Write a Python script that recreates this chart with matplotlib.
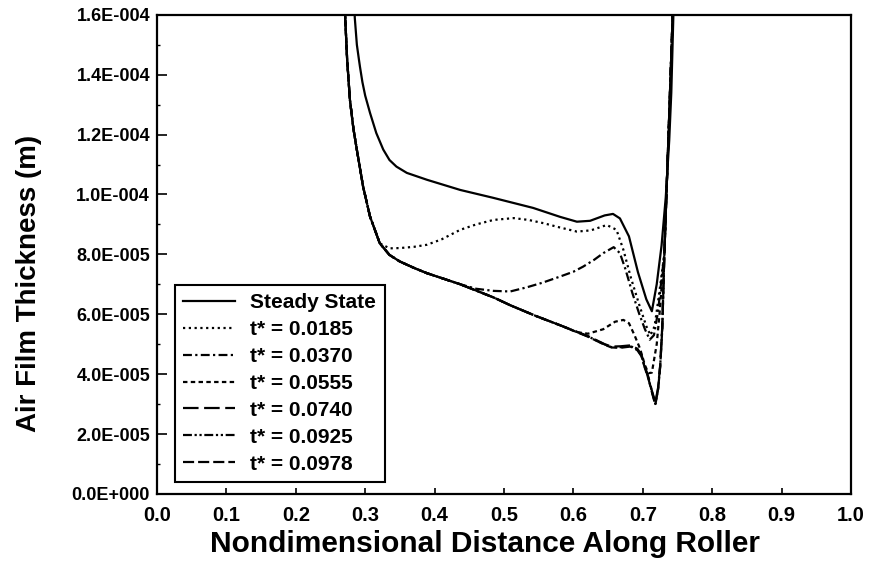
import numpy as np
import matplotlib
matplotlib.use("Agg")
import matplotlib.pyplot as plt
from matplotlib.ticker import FuncFormatter, MultipleLocator

plt.rcParams['font.family'] = ['Liberation Sans', 'DejaVu Sans']
plt.rcParams['font.weight'] = 'bold'

# film thickness values are read in units of 1E-005 m
# left branch shared by all transient curves (they sit on top of each other there)
left_x = [0.2695, 0.271, 0.274, 0.278, 0.283, 0.288, 0.297, 0.307, 0.321]
left_y = [17.0, 16.0, 14.5, 13.16, 12.2, 11.49, 10.26, 9.26, 8.37]
# right branch, also shared by the transient curves
right_x = [0.729, 0.731, 0.734, 0.737, 0.740, 0.743, 0.745]
right_y = [7.0, 8.0, 10.0, 12.0, 14.0, 16.0, 17.0]

steady_x = [0.2835, 0.285, 0.288, 0.291, 0.2925, 0.296, 0.300, 0.307, 0.316, 0.326, 0.335,
            0.345, 0.360, 0.389, 0.437, 0.484, 0.542, 0.581, 0.605, 0.624, 0.645, 0.657,
            0.667, 0.680, 0.693, 0.705, 0.713, 0.720, 0.727, 0.733, 0.738, 0.741, 0.744, 0.746]
steady_y = [17.0, 15.9, 15.0, 14.5, 14.26, 13.75, 13.3, 12.72, 12.05, 11.5, 11.15,
            10.93, 10.72, 10.49, 10.15, 9.89, 9.55, 9.25, 9.09, 9.12, 9.3, 9.35,
            9.2, 8.6, 7.4, 6.5, 6.1, 7.0, 8.3, 9.9, 11.8, 13.4, 16.0, 17.0]

mid_x = [0.335, 0.350, 0.370, 0.389, 0.437]
lower_mid_y = [7.98, 7.76, 7.55, 7.37, 7.0]

t0185_x = left_x + [0.335, 0.350, 0.370, 0.389, 0.410, 0.437, 0.460, 0.485, 0.514, 0.535,
                    0.557, 0.580, 0.605, 0.625, 0.648, 0.662, 0.672, 0.683, 0.695, 0.705,
                    0.711, 0.717, 0.723] + right_x[1:]
t0185_y = left_y + [8.2, 8.21, 8.25, 8.32, 8.5, 8.82, 9.0, 9.15, 9.21, 9.15,
                    9.04, 8.9, 8.76, 8.8, 8.98, 8.82, 8.15, 7.2, 6.3, 5.6,
                    5.3, 5.6, 6.6] + right_y[1:]

t0370_x = left_x + mid_x + [0.460, 0.485, 0.509, 0.533, 0.555, 0.581, 0.600, 0.614, 0.630,
                            0.643, 0.658, 0.667, 0.675, 0.685, 0.695, 0.703, 0.710, 0.716,
                            0.722, 0.727] + right_x[1:]
t0370_y = left_y + lower_mid_y + [6.85, 6.78, 6.76, 6.9, 7.05, 7.26, 7.42, 7.59, 7.82,
                                  8.04, 8.24, 8.04, 7.5, 6.7, 6.0, 5.5, 5.15, 5.3,
                                  6.1, 7.2] + right_y[1:]

t0555_x = left_x + mid_x + [0.486, 0.509, 0.545, 0.581, 0.605, 0.621, 0.643, 0.660, 0.672,
                            0.680, 0.688, 0.696, 0.703, 0.708, 0.713, 0.720, 0.724, 0.727] + right_x[1:]
t0555_y = left_y + lower_mid_y + [6.55, 6.3, 5.95, 5.63, 5.4, 5.35, 5.5, 5.75, 5.81,
                                  5.7, 5.3, 4.85, 4.3, 4.03, 4.05, 5.0, 6.0, 6.9] + right_y[1:]

t0740_x = left_x + mid_x + [0.486, 0.509, 0.545, 0.581, 0.621, 0.645, 0.655, 0.668, 0.682,
                            0.692, 0.698, 0.703, 0.708, 0.713, 0.718, 0.722, 0.725, 0.728] + right_x[1:]
t0740_y = left_y + lower_mid_y + [6.55, 6.3, 5.95, 5.63, 5.27, 5.0, 4.92, 4.93, 4.96,
                                  4.85, 4.65, 4.25, 3.9, 3.45, 3.05, 3.55, 4.3, 5.6] + right_y[1:]

t0925_x = left_x + mid_x + [0.486, 0.509, 0.545, 0.581, 0.621, 0.645, 0.655, 0.668, 0.682,
                            0.692, 0.698, 0.703, 0.708, 0.713, 0.718, 0.722, 0.725, 0.728] + right_x[1:]
t0925_y = left_y + lower_mid_y + [6.55, 6.3, 5.95, 5.63, 5.26, 4.99, 4.9, 4.9, 4.94,
                                  4.82, 4.62, 4.22, 3.87, 3.42, 3.0, 3.5, 4.27, 5.55] + right_y[1:]

t0978_x = left_x + mid_x + [0.486, 0.509, 0.545, 0.581, 0.621, 0.645, 0.655, 0.668, 0.682,
                            0.692, 0.698, 0.703, 0.708, 0.713, 0.718, 0.722, 0.725, 0.728] + right_x[1:]
t0978_y = left_y + lower_mid_y + [6.55, 6.3, 5.95, 5.63, 5.25, 4.98, 4.89, 4.88, 4.92,
                                  4.8, 4.6, 4.2, 3.85, 3.4, 2.97, 3.5, 4.25, 5.5] + right_y[1:]

labels = ['Steady State', 't* = 0.0185', 't* = 0.0370', 't* = 0.0555',
          't* = 0.0740', 't* = 0.0925', 't* = 0.0978']

xticks = np.arange(0, 1.01, 0.1)
yticks = np.arange(0, 1.61e-4, 2e-5)


def sci_fmt(v, pos):
    if v == 0:
        return '0.0E+000'
    e = int(np.floor(np.log10(abs(v)) + 1e-9))
    m = v / 10**e
    sign = '-' if e < 0 else '+'
    return f'{m:.1f}E{sign}{abs(e):03d}'


fig = plt.figure(figsize=(8.72, 5.69), dpi=100)
ax = fig.add_axes([0.180, 0.132, 0.796, 0.842])

series = [
    (steady_x, steady_y, dict(linestyle='-')),
    (t0185_x, t0185_y, dict(linestyle=(0, (1, 1.6)))),
    (t0370_x, t0370_y, dict(linestyle=(0, (4, 1.5, 1, 1.5)))),
    (t0555_x, t0555_y, dict(linestyle=(0, (2, 1.5)))),
    (t0740_x, t0740_y, dict(linestyle=(0, (7, 2.5)))),
    (t0925_x, t0925_y, dict(linestyle=(0, (4, 1.2, 1, 1.2, 1, 1.2)))),
    (t0978_x, t0978_y, dict(linestyle=(0, (5, 1.8)))),
]
for (sx, sy, st), lab in zip(series, labels):
    ax.plot(sx, np.array(sy) * 1e-5, color='black', lw=1.6, label=lab, **st)

ax.set_xlim(0, 1.0)
ax.set_ylim(0, 1.6e-4)
ax.set_xticks(xticks)
ax.set_yticks(yticks)
ax.yaxis.set_minor_locator(MultipleLocator(1e-5))
ax.yaxis.set_major_formatter(FuncFormatter(sci_fmt))
ax.xaxis.set_major_formatter(FuncFormatter(lambda v, p: f'{v:.1f}'))

ax.tick_params(axis='x', direction='in', length=4, width=1.2, pad=9, labelsize=14.5)
ax.tick_params(axis='y', which='major', direction='in', length=7, width=1.2, pad=5, labelsize=13)
ax.tick_params(axis='y', which='minor', direction='in', length=2, width=1.0)
for lab in ax.get_xticklabels() + ax.get_yticklabels():
    lab.set_fontweight('bold')
for sp in ax.spines.values():
    sp.set_linewidth(1.6)

ax.set_xlabel('Nondimensional Distance Along Roller', fontsize=21.5, fontweight='bold')
ax.xaxis.set_label_coords(0.4726, -0.075)
ax.set_ylabel('Air Film Thickness (m)', fontsize=20, fontweight='bold')
ax.yaxis.set_label_coords(-0.166, 0.44)

leg = ax.legend(loc='lower left', bbox_to_anchor=(0.026, 0.025), borderaxespad=0,
                fancybox=False, edgecolor='black', framealpha=1, fontsize=15,
                handlelength=2.5, handletextpad=0.72, labelspacing=0.38, borderpad=0.4)
leg.get_frame().set_linewidth(1.5)
for t in leg.get_texts():
    t.set_fontweight('bold')

fig.savefig('out.png', dpi=100)
